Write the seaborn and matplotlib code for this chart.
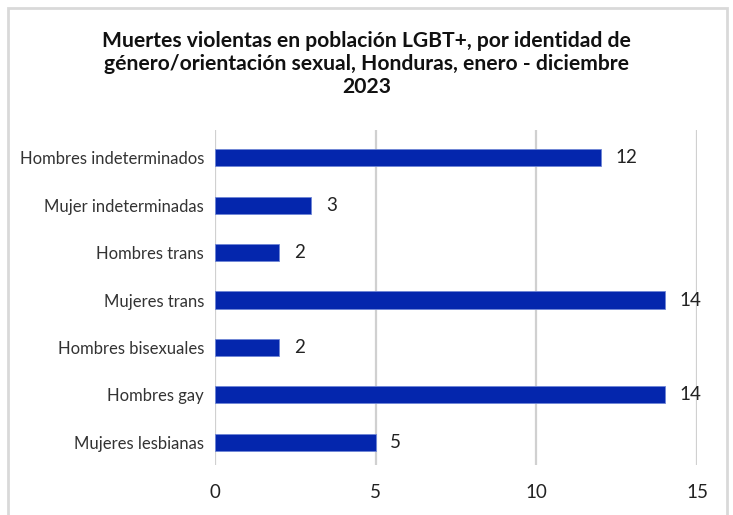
import matplotlib
matplotlib.use("Agg")
import matplotlib.pyplot as plt
import seaborn as sns
import pandas as pd

categories = [
    "Hombres indeterminados",
    "Mujer indeterminadas",
    "Hombres trans",
    "Mujeres trans",
    "Hombres bisexuales",
    "Hombres gay",
    "Mujeres lesbianas",
]
deaths = [12, 3, 2, 14, 2, 14, 5]
x_ticks = [0, 5, 10, 15]

TITLE = ("Muertes violentas en población LGBT+, por identidad de\n"
         "género/orientación sexual, Honduras, enero - diciembre\n2023")
BAR = "#0426AD"

sns.set_theme(style="white")
plt.rcParams["font.family"] = ["Lato", "DejaVu Sans"]

df = pd.DataFrame({"grupo": categories, "muertes": deaths})

fig = plt.figure(figsize=(7.33, 5.15), dpi=100)
ax = fig.add_axes([0.2933, 0.097, 0.6576, 0.6506])

sns.barplot(data=df, x="muertes", y="grupo", color=BAR, width=0.36,
            edgecolor="#6f86d6", linewidth=0.6, saturation=1, ax=ax, zorder=3)

for i, v in enumerate(deaths):
    ax.text(v + 0.45, i, str(v), va="center", ha="left", fontsize=13.5,
            color="#222222")

ax.set_xlim(0, 15)
ax.set_ylim(6.485, -0.59)
ax.set_xticks(x_ticks)
ax.set_xticklabels([str(t) for t in x_ticks], fontsize=13.5, color="#222222")
ax.tick_params(axis="x", pad=14, length=0)
ax.tick_params(axis="y", labelsize=12, labelcolor="#333333", length=0, pad=8)
for t in x_ticks:
    ax.axvline(t, color="#d0d0d0", linewidth=1.6, zorder=0)
for s in ax.spines.values():
    s.set_visible(False)
ax.set_xlabel("")
ax.set_ylabel("")

fig.text(0.5, 0.94, TITLE, ha="center", va="top", fontsize=15.2,
         fontweight="bold", color="#111111", linespacing=1.2)

border = plt.Rectangle((8 / 733, -0.05), 719 / 733, 1.035, transform=fig.transFigure,
                       fill=False, edgecolor="#d9d9d9", linewidth=2)
fig.add_artist(border)

fig.savefig("out.png", dpi=100)
